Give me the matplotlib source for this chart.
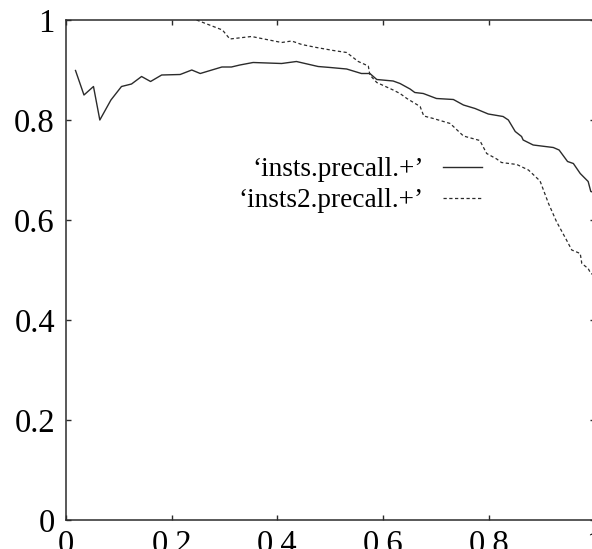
import matplotlib
matplotlib.use("Agg")
import matplotlib.pyplot as plt

# series 1: 'insts.precall.+'
x1 = [0.018, 0.034, 0.052, 0.064, 0.085, 0.105, 0.124, 0.143, 0.160, 0.181, 0.216,
      0.238, 0.254, 0.276, 0.295, 0.313, 0.329, 0.354, 0.408, 0.436, 0.477, 0.500,
      0.531, 0.559, 0.575, 0.588, 0.619, 0.632, 0.651, 0.660, 0.676, 0.701, 0.733,
      0.752, 0.774, 0.799, 0.827, 0.837, 0.850, 0.862, 0.865, 0.884, 0.922, 0.933,
      0.949, 0.960, 0.973, 0.988, 0.993, 1.000]
y1 = [0.899, 0.850, 0.867, 0.800, 0.840, 0.867, 0.872, 0.887, 0.877, 0.890, 0.891,
      0.900, 0.893, 0.900, 0.906, 0.906, 0.910, 0.915, 0.913, 0.917, 0.907, 0.905,
      0.902, 0.893, 0.893, 0.881, 0.878, 0.873, 0.862, 0.855, 0.853, 0.843, 0.841,
      0.830, 0.823, 0.812, 0.807, 0.800, 0.777, 0.767, 0.760, 0.750, 0.745, 0.740,
      0.717, 0.713, 0.693, 0.677, 0.657, 0.655]

# series 2: 'insts2.precall.+'
x2 = [0.247, 0.296, 0.310, 0.351, 0.408, 0.427, 0.446, 0.474, 0.506, 0.531, 0.553,
      0.572, 0.575, 0.588, 0.619, 0.632, 0.645, 0.670, 0.677, 0.695, 0.727, 0.752,
      0.783, 0.790, 0.796, 0.815, 0.824, 0.853, 0.875, 0.897, 0.913, 0.928, 0.947,
      0.957, 0.973, 0.976, 0.988, 0.993, 1.000]
y2 = [1.000, 0.980, 0.962, 0.967, 0.955, 0.958, 0.951, 0.945, 0.939, 0.935, 0.917,
      0.908, 0.890, 0.875, 0.860, 0.853, 0.843, 0.827, 0.808, 0.803, 0.793, 0.768,
      0.759, 0.745, 0.733, 0.722, 0.715, 0.711, 0.700, 0.678, 0.633, 0.597, 0.560,
      0.540, 0.533, 0.513, 0.503, 0.493, 0.490]

labels = ["\u2018insts.precall.+\u2019", "\u2018insts2.precall.+\u2019"]
ticks = [0, 0.2, 0.4, 0.6, 0.8, 1]
tick_labels = ["0", "0.2", "0.4", "0.6", "0.8", "1"]

plt.rcParams['font.family'] = ['Liberation Serif', 'DejaVu Serif']

fig = plt.figure(figsize=(5.92, 5.49), dpi=100)
ax = fig.add_axes([66/592, 29/549, 528.5/592, 500/549])

col = "#2b2b2b"
ax.plot(x1, y1, color=col, lw=1.0, label=labels[0])
ax.plot(x2, y2, color=col, lw=0.9, linestyle=(0, (2.6, 2.0)), label=labels[1])

ax.set_xlim(0, 1)
ax.set_ylim(0, 1)
ax.set_xticks(ticks)
ax.set_xticklabels(tick_labels)
ax.set_yticks(ticks)
ax.set_yticklabels(tick_labels)
ax.tick_params(direction="in", length=3.6, width=1.0, color=col,
               top=True, right=True, labelsize=23.5)
ax.tick_params(axis="y", pad=8)
ax.tick_params(axis="x", pad=7)
for s in ax.spines.values():
    s.set_linewidth(1.1)
    s.set_color(col)

top_px = 157
right_px = 481.5
leg = ax.legend(loc="upper left", bbox_to_anchor=(right_px/592, (549-top_px)/549),
                bbox_transform=fig.transFigure, frameon=False, markerfirst=False,
                fontsize=19.6, handlelength=1.42, handletextpad=0.7,
                labelspacing=0.22, borderpad=0, borderaxespad=0)
fig.canvas.draw()
bb = leg.get_window_extent()
# anchor legend by its upper right corner
leg.set_bbox_to_anchor(((right_px - bb.width)/592, (549-top_px)/549), transform=fig.transFigure)

fig.savefig("out.png", dpi=100)
